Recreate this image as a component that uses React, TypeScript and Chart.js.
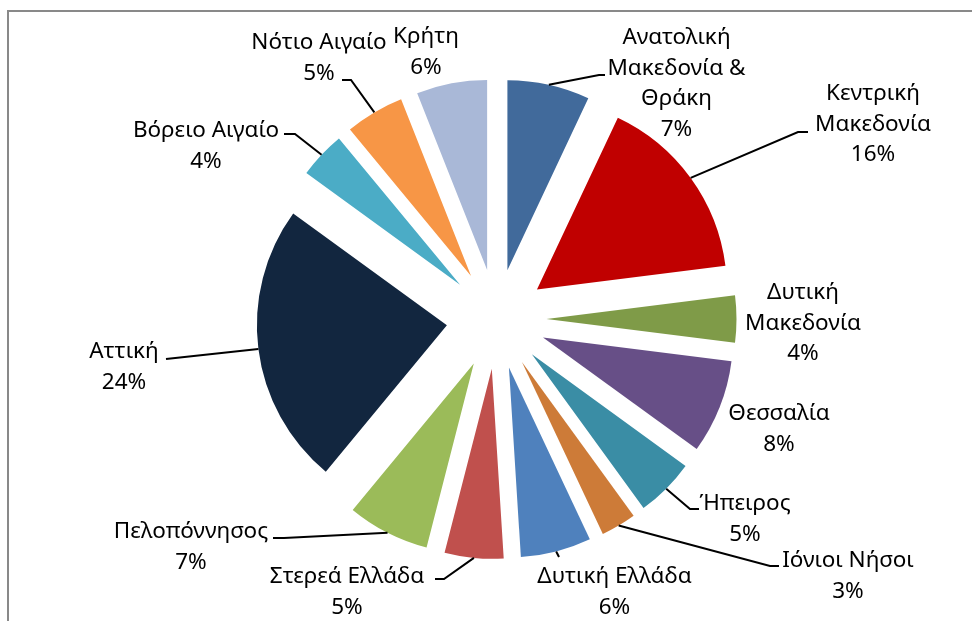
import React, { useEffect, useRef } from "react";
import { Chart, registerables } from "chart.js";

Chart.register(...registerables);

// ---- data ----
const REGIONS = [
  "Ανατολική Μακεδονία & Θράκη",
  "Κεντρική Μακεδονία",
  "Δυτική Μακεδονία",
  "Θεσσαλία",
  "Ήπειρος",
  "Ιόνιοι Νήσοι",
  "Δυτική Ελλάδα",
  "Στερεά Ελλάδα",
  "Πελοπόννησος",
  "Αττική",
  "Βόρειο Αιγαίο",
  "Νότιο Αιγαίο",
  "Κρήτη",
];
const LABEL_LINES = [
  ["Ανατολική", "Μακεδονία &", "Θράκη"],
  ["Κεντρική", "Μακεδονία"],
  ["Δυτική", "Μακεδονία"],
  ["Θεσσαλία"],
  ["Ήπειρος"],
  ["Ιόνιοι Νήσοι"],
  ["Δυτική Ελλάδα"],
  ["Στερεά Ελλάδα"],
  ["Πελοπόννησος"],
  ["Αττική"],
  ["Βόρειο Αιγαίο"],
  ["Νότιο Αιγαίο"],
  ["Κρήτη"],
];
const SHARES = [7, 16, 4, 8, 5, 3, 6, 5, 7, 24, 4, 5, 6];

// ---- styles / layout ----
const COLORS = [
  "#416A9B",
  "#C00000",
  "#7F9B48",
  "#674F87",
  "#3A8DA5",
  "#CD7B38",
  "#4F81BD",
  "#C0504D",
  "#9BBB59",
  "#12263F",
  "#4BACC6",
  "#F79646",
  "#A9B8D7",
];
const EXPLODE = 50;
const RADIUS = 190;
const FONT = '22.5px "Noto Sans", "Open Sans", sans-serif';
const LINE_H = 30.5;
// text block centre x, first line centre y, optional elbow and anchor of leader line
type LabelPos = { x: number; y: number; elbow?: [number, number]; anchor?: [number, number] };
const LABEL_POS: LabelPos[] = [
  { x: 676.5, y: 38, elbow: [599, 75], anchor: [605, 75] },
  { x: 873, y: 94, elbow: [798, 132], anchor: [808, 132] },
  { x: 803, y: 293 },
  { x: 779, y: 414 },
  { x: 745, y: 504, elbow: [690, 509], anchor: [699, 509] },
  { x: 848, y: 561, elbow: [770, 566], anchor: [779, 566] },
  { x: 614.5, y: 577, anchor: [559, 557] },
  { x: 347, y: 577, elbow: [444, 579], anchor: [435, 579] },
  { x: 191, y: 532, elbow: [284, 538], anchor: [273, 538] },
  { x: 124, y: 352, anchor: [166, 359] },
  { x: 206, y: 131, elbow: [295, 134], anchor: [284, 134] },
  { x: 319, y: 43, elbow: [351, 80], anchor: [342, 80] },
  { x: 426, y: 37 },
];

const explodePlugin = {
  id: "explode",
  afterDatasetsUpdate(chart: any) {
    const meta = chart.getDatasetMeta(0);
    meta.data.forEach((arc: any) => {
      const mid = (arc.startAngle + arc.endAngle) / 2;
      arc.x += EXPLODE * Math.cos(mid);
      arc.y += EXPLODE * Math.sin(mid);
    });
  },
};

const framePlugin = {
  id: "frame",
  beforeDraw(chart: any) {
    const ctx = chart.ctx;
    ctx.save();
    ctx.strokeStyle = "#898989";
    ctx.lineWidth = 2;
    ctx.beginPath();
    ctx.moveTo(8, chart.height + 2);
    ctx.lineTo(8, 11);
    ctx.lineTo(chart.width + 2, 11);
    ctx.stroke();
    ctx.restore();
  },
};

const labelPlugin = {
  id: "sliceLabels",
  afterDatasetsDraw(chart: any) {
    const ctx = chart.ctx;
    const meta = chart.getDatasetMeta(0);
    const values: number[] = chart.data.datasets[0].data;
    const total = values.reduce((a, b) => a + b, 0);
    ctx.save();
    meta.data.forEach((arc: any, i: number) => {
      const pos = LABEL_POS[i];
      const mid = (arc.startAngle + arc.endAngle) / 2;
      if (pos.anchor) {
        const sx = arc.x + arc.outerRadius * Math.cos(mid);
        const sy = arc.y + arc.outerRadius * Math.sin(mid);
        ctx.strokeStyle = "#000";
        ctx.lineWidth = 2;
        ctx.beginPath();
        ctx.moveTo(sx, sy);
        if (pos.elbow) ctx.lineTo(pos.elbow[0], pos.elbow[1]);
        ctx.lineTo(pos.anchor[0], pos.anchor[1]);
        ctx.stroke();
      }
      const lines = [...LABEL_LINES[i], Math.round((values[i] / total) * 100) + "%"];
      ctx.fillStyle = "#000";
      ctx.font = FONT;
      ctx.textAlign = "center";
      ctx.textBaseline = "middle";
      lines.forEach((t, k) => ctx.fillText(t, pos.x, pos.y + k * LINE_H));
    });
    ctx.restore();
  },
};

export default function App() {
  const ref = useRef<HTMLCanvasElement>(null);
  useEffect(() => {
    if (!ref.current) return;
    const chart = new Chart(ref.current, {
      type: "pie",
      data: {
        labels: REGIONS,
        datasets: [{ data: SHARES, backgroundColor: COLORS, borderWidth: 0 }],
      },
      options: {
        animation: false,
        responsive: false,
        events: [],
        radius: RADIUS,
        layout: { padding: { left: 21, top: 17, right: 0, bottom: 0 } },
        plugins: { legend: { display: false }, tooltip: { enabled: false } },
      } as any,
      plugins: [framePlugin, explodePlugin, labelPlugin],
    });
    return () => chart.destroy();
  }, []);
  return (
    <div style={{ position: "fixed", left: 0, top: 0, width: 972, height: 621, background: "#fff" }}>
      <canvas ref={ref} width={972} height={621} style={{ display: "block" }} />
    </div>
  );
}
